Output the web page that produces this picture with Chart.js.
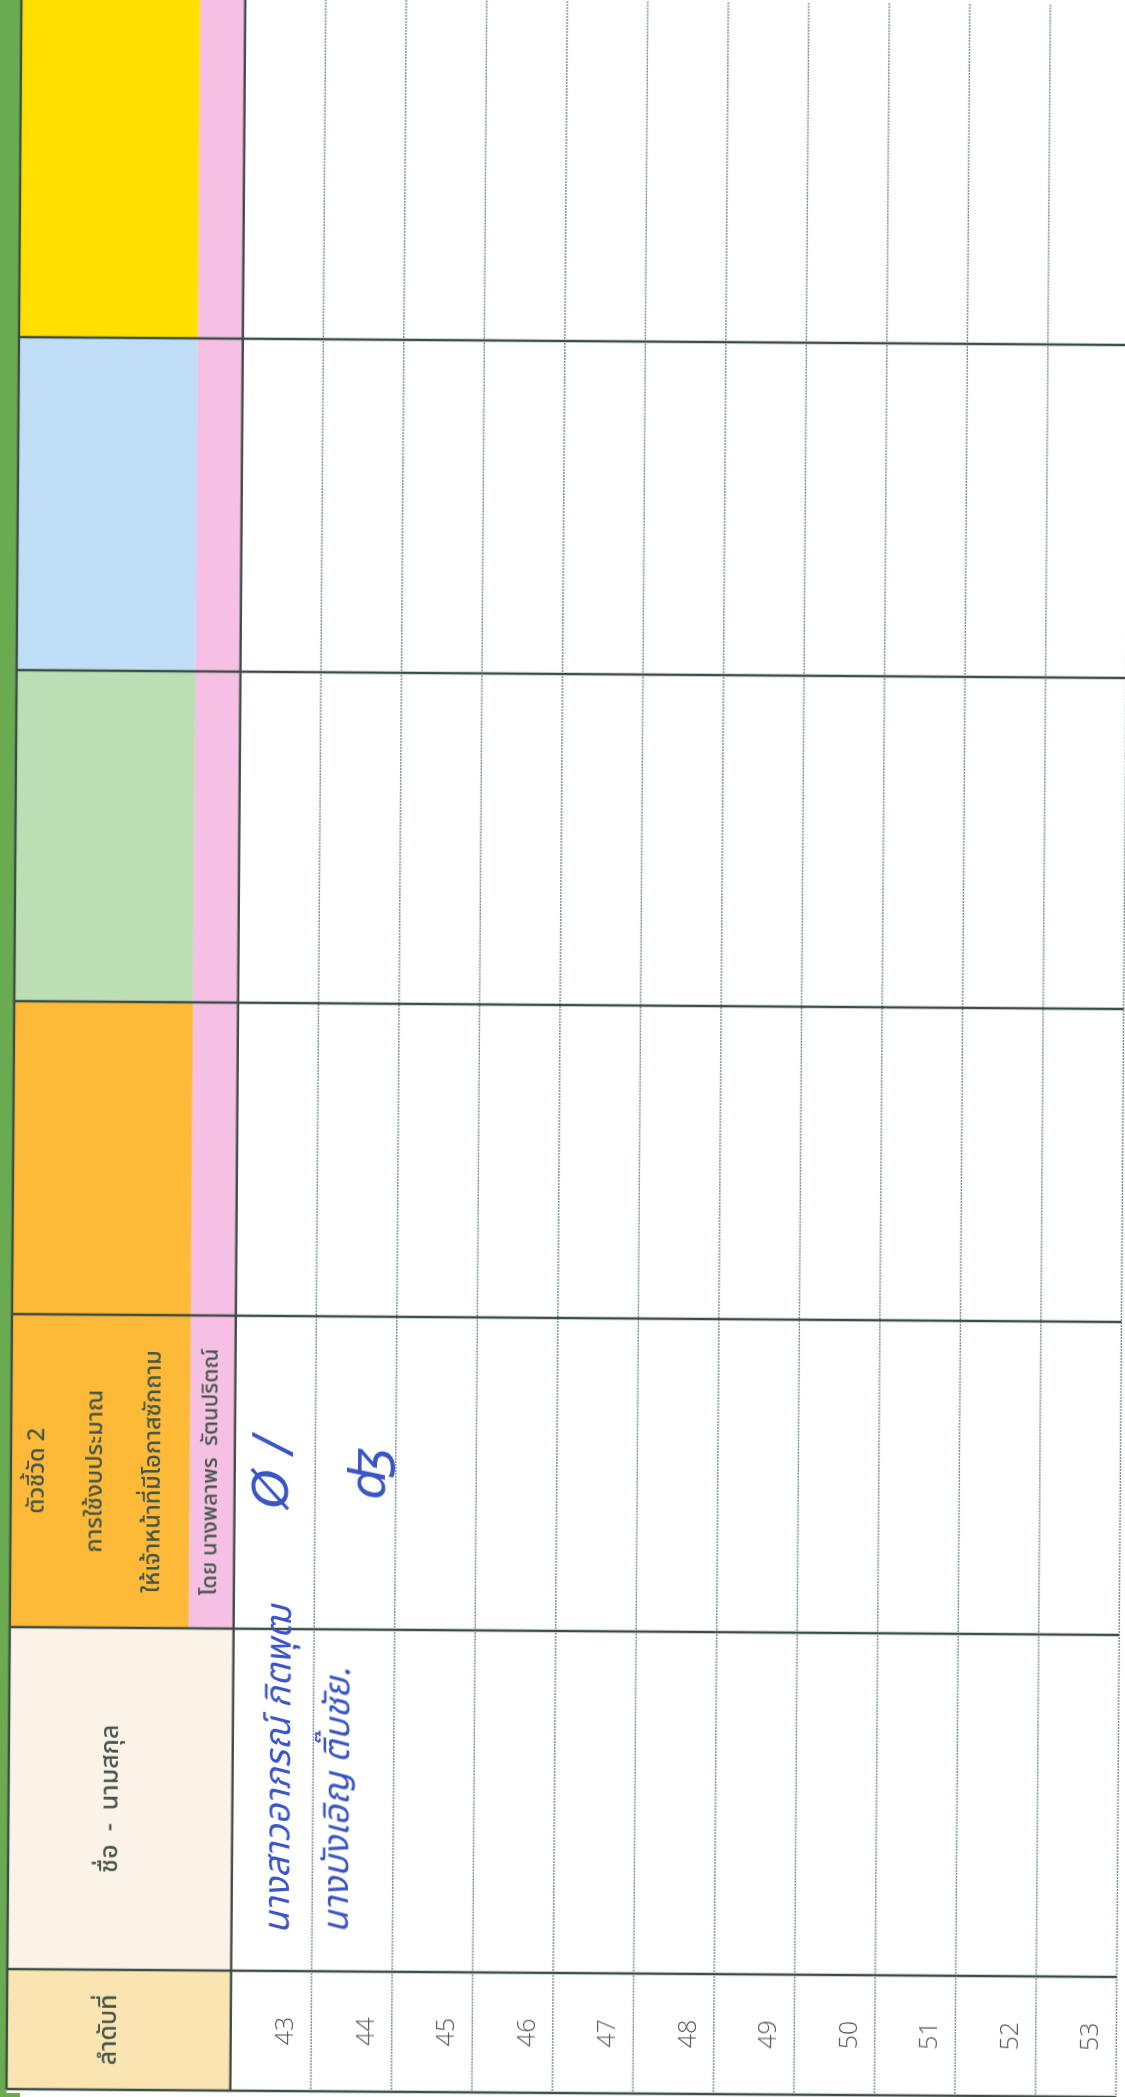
<!DOCTYPE html>
<html>
<head>
<meta charset="utf-8">
<script src="https://cdn.jsdelivr.net/npm/chart.js@4.4.1/dist/chart.umd.min.js"></script>
<style>
  html, body { margin: 0; padding: 0; overflow: hidden; background: linear-gradient(to right, #6aaa50 0 20px, #ffffff 20px); }
  #wrap { width: 1125px; height: 2097px; transform: rotate(0.41deg); }
</style>
</head>
<body>
<div id="wrap"><canvas id="sheet" width="1125" height="2097"></canvas></div>
<script>
// ลำดับที่ในหน้านี้
const rowNumbers = [43, 44, 45, 46, 47, 48, 49, 50, 51, 52, 53];
// หัวคอลัมน์ เรียงจากล่างขึ้นบนในภาพ
const columnTitles = [
  ['ลำดับที่'],
  ['ชื่อ  -  นามสกุล'],
  ['ตัวชี้วัด 2', 'การใช้งบประมาณ', 'ให้เจ้าหน้าที่มีโอกาสซักถาม'],
  [], [], [], []
];
const columnSubTitles = ['', '', 'โดย นางพลาพร  รัตนปริตณ์', '', '', '', ''];
const columnWidths = [120, 342, 313, 313, 331, 333, 400];
const columnColors = ['#fae4b2', '#fbf3e8', '#fdb938', '#fdb938', '#bbdeb5', '#bfddf5', '#ffdf00'];
// ชื่อที่เขียนด้วยลายมือ (แถว 43, 44)
const signedNames = ['นางสาวอาภรณ์ กิตพุฒ', 'นางบังเอิญ ติ๊บชัย.'];
const signMarks = ['Ø /', 'ʤ'];

const thaiFont = '"Noto Sans Thai", "Noto Sans Thai UI", Garuda, Loma, Waree, "Noto Sans", "DejaVu Sans", sans-serif';
const lineDark = '#3c4d45';
const textColor = '#44544a';
const hdrLeft = -2.78;   // ขอบซ้ายของตาราง (หน่วยแถว)
const pinkLeft = -0.558; // แถบสีชมพู

// ขอบของแต่ละคอลัมน์
const edges = [0];
columnWidths.forEach(w => edges.push(edges[edges.length - 1] + w));

function vText(ctx, text, px, py, font, color) {
  ctx.save();
  ctx.translate(px, py);
  ctx.rotate(-Math.PI / 2);
  ctx.font = font;
  ctx.fillStyle = color;
  ctx.textAlign = 'center';
  ctx.textBaseline = 'middle';
  ctx.fillText(text, 0, 0);
  ctx.restore();
}

const sheetPlugin = {
  id: 'sheet',
  beforeDatasetsDraw(chart) {
    const { ctx, scales: { x, y } } = chart;
    const W = chart.width, H = chart.height;
    ctx.save();
    ctx.fillStyle = '#ffffff';
    ctx.fillRect(0, 0, W, H);

    const xl = x.getPixelForValue(hdrLeft);
    const xp = x.getPixelForValue(pinkLeft);
    const x0 = x.getPixelForValue(0);
    const xr = x.getPixelForValue(rowNumbers.length);

    // แถบเขียวด้านซ้าย
    ctx.fillStyle = '#6aaa50';
    ctx.fillRect(0, 0, xl, H);

    // สีหัวคอลัมน์
    columnWidths.forEach((w, c) => {
      const top = y.getPixelForValue(edges[c + 1]);
      const bot = y.getPixelForValue(edges[c]);
      ctx.fillStyle = columnColors[c];
      if (c >= 2) {
        ctx.fillRect(xl, top, xp - xl, bot - top);
        ctx.fillStyle = '#f6c0e4';
        ctx.fillRect(xp, top, x0 - xp, bot - top);
      } else {
        ctx.fillRect(xl, top, x0 - xl, bot - top);
      }
    });

    const yTop = y.getPixelForValue(edges[edges.length - 1]);
    const yBot = y.getPixelForValue(0);

    // เส้นแบ่งแถว (จุดประ)
    ctx.strokeStyle = '#728a80';
    ctx.lineWidth = 1.4;
    ctx.setLineDash([2, 1]);
    for (let i = 1; i <= rowNumbers.length; i++) {
      const px = x.getPixelForValue(i);
      ctx.beginPath();
      ctx.moveTo(px, yTop);
      ctx.lineTo(px, yBot);
      ctx.stroke();
    }
    ctx.setLineDash([]);

    // เส้นขอบหนา
    ctx.strokeStyle = lineDark;
    ctx.lineWidth = 2.4;
    [xl, x0].forEach(px => {
      ctx.beginPath();
      ctx.moveTo(px, yTop);
      ctx.lineTo(px, yBot);
      ctx.stroke();
    });
    edges.slice(0, -1).forEach(v => {
      const py = y.getPixelForValue(v);
      ctx.beginPath();
      ctx.moveTo(xl, py);
      ctx.lineTo(xr, py);
      ctx.stroke();
    });

    // ข้อความหัวคอลัมน์
    columnTitles.forEach((lines, c) => {
      const cy = y.getPixelForValue((edges[c] + edges[c + 1]) / 2);
      if (c >= 2) {
        const mid = (xl + xp) / 2 - 3;
        const gap = (xp - xl) * 0.325;
        lines.forEach((t, k) => {
          vText(ctx, t, mid + (k - (lines.length - 1) / 2) * gap, cy, '500 23.5px ' + thaiFont, textColor);
        });
      } else {
        lines.forEach(t => vText(ctx, t, (xl + x0) / 2 - 8, cy, '500 25px ' + thaiFont, textColor));
      }
      if (columnSubTitles[c]) {
        vText(ctx, columnSubTitles[c], (xp + x0) / 2, cy, '500 22px ' + thaiFont, textColor);
      }
    });
    ctx.restore();
  },
  afterDatasetsDraw(chart) {
    const { ctx, scales: { x, y } } = chart;
    const meta = chart.getDatasetMeta(0);
    meta.data.forEach((pt, i) => {
      vText(ctx, String(rowNumbers[i]), pt.x + 15, pt.y, '300 25px "Open Sans", Lato, sans-serif', '#555555');
    });
    // ลายมือ
    const ink = '#3a55c4';
    const nameMid = (edges[1] + edges[2]) / 2;
    const markY = y.getPixelForValue((edges[2] + edges[3]) / 2);
    const nameOffsets = [0.62, 0.35];
    const nameShift = [30, 0];
    const markOffsets = [0.5, 0.7];
    signedNames.forEach((t, i) => {
      vText(ctx, t, x.getPixelForValue(i + nameOffsets[i]), y.getPixelForValue(nameMid + nameShift[i]), 'italic 36px ' + thaiFont, ink);
    });
    signMarks.forEach((t, i) => {
      vText(ctx, t, x.getPixelForValue(i + markOffsets[i]), markY, 'italic 50px "DejaVu Sans", sans-serif', ink);
    });
  }
};

new Chart(document.getElementById('sheet'), {
  type: 'scatter',
  data: {
    datasets: [{
      data: rowNumbers.map((n, i) => ({ x: i + 0.5, y: columnWidths[0] / 2 })),
      pointRadius: 0
    }]
  },
  options: {
    responsive: false,
    animation: false,
    layout: { padding: 0 },
    scales: {
      x: { type: 'linear', display: false, min: -2.953, max: 11.02 },
      y: { type: 'linear', display: false, min: -4, max: 2093 }
    },
    plugins: { legend: { display: false }, tooltip: { enabled: false } }
  },
  plugins: [sheetPlugin]
});
</script>
</body>
</html>
